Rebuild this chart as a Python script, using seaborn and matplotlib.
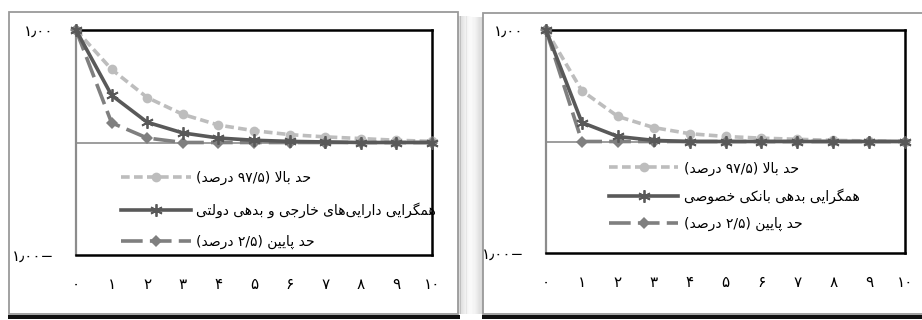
import re
import numpy as np
import pandas as pd
import seaborn as sns
import matplotlib
matplotlib.use('Agg')
import matplotlib.pyplot as plt
from matplotlib.patches import Rectangle
from matplotlib.lines import Line2D

# data
steps = list(range(11))
xtick_labels = ['۰', '۱', '۲', '۳', '۴', '۵', '۶', '۷', '۸', '۹', '۱۰']
ytick_labels = ['۱٫۰۰−', '۱٫۰۰']

upper_left = [1.0, 0.65, 0.40, 0.25, 0.155, 0.105, 0.07, 0.05, 0.035, 0.02, 0.01]
mid_left = [1.0, 0.42, 0.18, 0.085, 0.04, 0.02, 0.01, 0.005, 0.0, 0.0, 0.0]
low_left = [1.0, 0.175, 0.04, 0.0, 0.0, 0.0, 0.0, 0.0, 0.0, 0.0, 0.0]

upper_right = [1.0, 0.455, 0.225, 0.125, 0.07, 0.045, 0.03, 0.02, 0.01, 0.005, 0.0]
mid_right = [1.0, 0.17, 0.045, 0.01, 0.0, 0.0, 0.0, 0.0, 0.0, 0.0, 0.0]
low_right = [1.0, 0.0, 0.0, 0.0, 0.0, 0.0, 0.0, 0.0, 0.0, 0.0, 0.0]

upper_label = 'حد بالا (۹۷/۵ درصد)'
low_label = 'حد پایین (۲/۵ درصد)'
mid_label_left = 'همگرایی دارایی‌های خارجی و بدهی دولتی'
mid_label_right = 'همگرایی بدهی بانکی خصوصی'

# minimal arabic shaping + visual ordering (matplotlib draws left to right only)
FORMS = {
    'ا': ('\uFE8D', '\uFE8E', None, None),
    'ب': ('\uFE8F', '\uFE90', '\uFE91', '\uFE92'),
    'پ': ('\uFB56', '\uFB57', '\uFB58', '\uFB59'),
    'ت': ('\uFE95', '\uFE96', '\uFE97', '\uFE98'),
    'ج': ('\uFE9D', '\uFE9E', '\uFE9F', '\uFEA0'),
    'ح': ('\uFEA1', '\uFEA2', '\uFEA3', '\uFEA4'),
    'خ': ('\uFEA5', '\uFEA6', '\uFEA7', '\uFEA8'),
    'د': ('\uFEA9', '\uFEAA', None, None),
    'ر': ('\uFEAD', '\uFEAE', None, None),
    'ص': ('\uFEB9', '\uFEBA', '\uFEBB', '\uFEBC'),
    'ک': ('\uFB8E', '\uFB8F', '\uFB90', '\uFB91'),
    'گ': ('\uFB92', '\uFB93', '\uFB94', '\uFB95'),
    'ل': ('\uFEDD', '\uFEDE', '\uFEDF', '\uFEE0'),
    'م': ('\uFEE1', '\uFEE2', '\uFEE3', '\uFEE4'),
    'ن': ('\uFEE5', '\uFEE6', '\uFEE7', '\uFEE8'),
    'ه': ('\uFEE9', '\uFEEA', '\uFEEB', '\uFEEC'),
    'و': ('\uFEED', '\uFEEE', None, None),
    'ی': ('\uFBFC', '\uFBFD', '\uFBFE', '\uFBFF'),
}


def joins_forward(c):
    return c in FORMS and FORMS[c][2] is not None


def persian(text):
    out = []
    i = 0
    while i < len(text):
        c = text[i]
        prev = text[i - 1] if i > 0 else None
        nxt = text[i + 1] if i + 1 < len(text) else None
        if c not in FORMS:
            if c != '\u200c':
                out.append(c)
            i += 1
            continue
        jp = joins_forward(prev)
        if c == 'ل' and nxt == 'ا':
            out.append('\uFEFC' if jp else '\uFEFB')
            i += 2
            continue
        jn = joins_forward(c) and nxt in FORMS
        iso, fin, ini, med = FORMS[c]
        if jp and jn:
            out.append(med)
        elif jp:
            out.append(fin)
        elif jn:
            out.append(ini)
        else:
            out.append(iso)
        i += 1
    vis = ''.join(out)[::-1]
    vis = re.sub('[۰-۹/٫]+', lambda m: m.group(0)[::-1], vis)
    vis = vis.translate(str.maketrans('()', ')('))
    return vis


plt.rcParams['font.family'] = ['DejaVu Sans']

W, H = 922, 320
fig = plt.figure(figsize=(W / 100, H / 100), dpi=100)


def fx(x):
    return x / W


def fy(y):
    return 1 - y / H


def add_rect(x, y, w, h, **kw):
    fig.patches.append(Rectangle((x, y), w, h, transform=fig.transFigure, zorder=-10, **kw))


# panel frames with soft shadow
def frame(x0, y0, x1, y1, shadow_side):
    for k in range(12):
        a = 0.16 * (1 - k / 12) ** 1.5
        if shadow_side == 'right':
            add_rect(fx(x1 + k * 1.2), fy(y1), fx(1.3), fy(y0 + 4) - fy(y1), color='k', alpha=a, lw=0)
        else:
            add_rect(fx(x0 - 1.3 - k * 1.2), fy(y1), fx(1.3), fy(y0 + 4) - fy(y1), color='k', alpha=a, lw=0)
    add_rect(fx(x0), fy(y1), fx(x1 - x0), fy(y0) - fy(y1), facecolor='white', edgecolor='#9a9a9a', lw=1.3)
    add_rect(fx(x0 - 1), fy(y1 + 5), fx(x1 - x0 + 3), fy(y1 + 1) - fy(y1 + 5), color='#111111', lw=0)


frame(9, 12, 458, 314, 'right')
frame(483, 13, 925, 314, 'left')

axes_spec = [
    (fig.add_axes([fx(76), fy(255), fx(432 - 76), fy(30) - fy(255)]),
     upper_left, mid_left, low_left, mid_label_left, (0.10, -0.015), 1.2),
    (fig.add_axes([fx(546), fy(253), fx(905 - 546), fy(30) - fy(253)]),
     upper_right, mid_right, low_right, mid_label_right, (0.148, 0.055), 0.92),
]

for ax, up, mid, low, mid_label, anchor, spacing in axes_spec:
    ax.patch.set_alpha(0)
    ax.axhline(0, color='#8c8c8c', lw=1.2, zorder=1)
    sns.lineplot(x=steps, y=up, ax=ax, color='#bdbdbd', lw=2.6, marker='o', ms=7,
                 mec='#bdbdbd', mew=0, clip_on=False, zorder=3)
    ax.lines[-1].set_dashes((2.4, 1.2))
    sns.lineplot(x=steps, y=low, ax=ax, color='#7f7f7f', lw=2.6, marker='D', ms=6,
                 mec='#7f7f7f', mew=0, clip_on=False, zorder=4)
    ax.lines[-1].set_dashes((6, 2))
    sns.lineplot(x=steps, y=mid, ax=ax, color='#595959', lw=2.6, marker=(6, 2, 0), ms=9,
                 mec='#595959', mew=1.3, clip_on=False, zorder=5)

    h_up = Line2D([], [], color='#bdbdbd', lw=2.6, marker='o', ms=7, mew=0, dashes=(2.4, 1.2))
    h_mid = Line2D([], [], color='#595959', lw=2.6, marker=(6, 2, 0), ms=9, mec='#595959', mew=1.3)
    h_low = Line2D([], [], color='#7f7f7f', lw=2.6, marker='D', ms=6, mew=0, dashes=(6, 2))
    ax.legend([h_up, h_mid, h_low],
              [persian(upper_label), persian(mid_label), persian(low_label)],
              loc='lower left', bbox_to_anchor=anchor, frameon=False, fontsize=10,
              handlelength=5.0, handletextpad=0.4, labelspacing=spacing, borderpad=0.2)

    ax.set_xlim(0, 10)
    ax.set_ylim(-1, 1)
    ax.set_xticks(steps)
    ax.set_xticklabels(xtick_labels, fontsize=11)
    ax.set_yticks([-1, 1])
    ax.set_yticklabels(ytick_labels, fontsize=11)
    ax.tick_params(axis='x', length=0, pad=16)
    ax.tick_params(axis='y', length=0, pad=16)
    ax.set_xlabel('')
    ax.set_ylabel('')
    for s in ['top', 'right', 'bottom']:
        ax.spines[s].set_color('black')
        ax.spines[s].set_linewidth(1.8)
    ax.spines['left'].set_color('#8c8c8c')
    ax.spines['left'].set_linewidth(1.6)

fig.savefig('out.png', dpi=100)
